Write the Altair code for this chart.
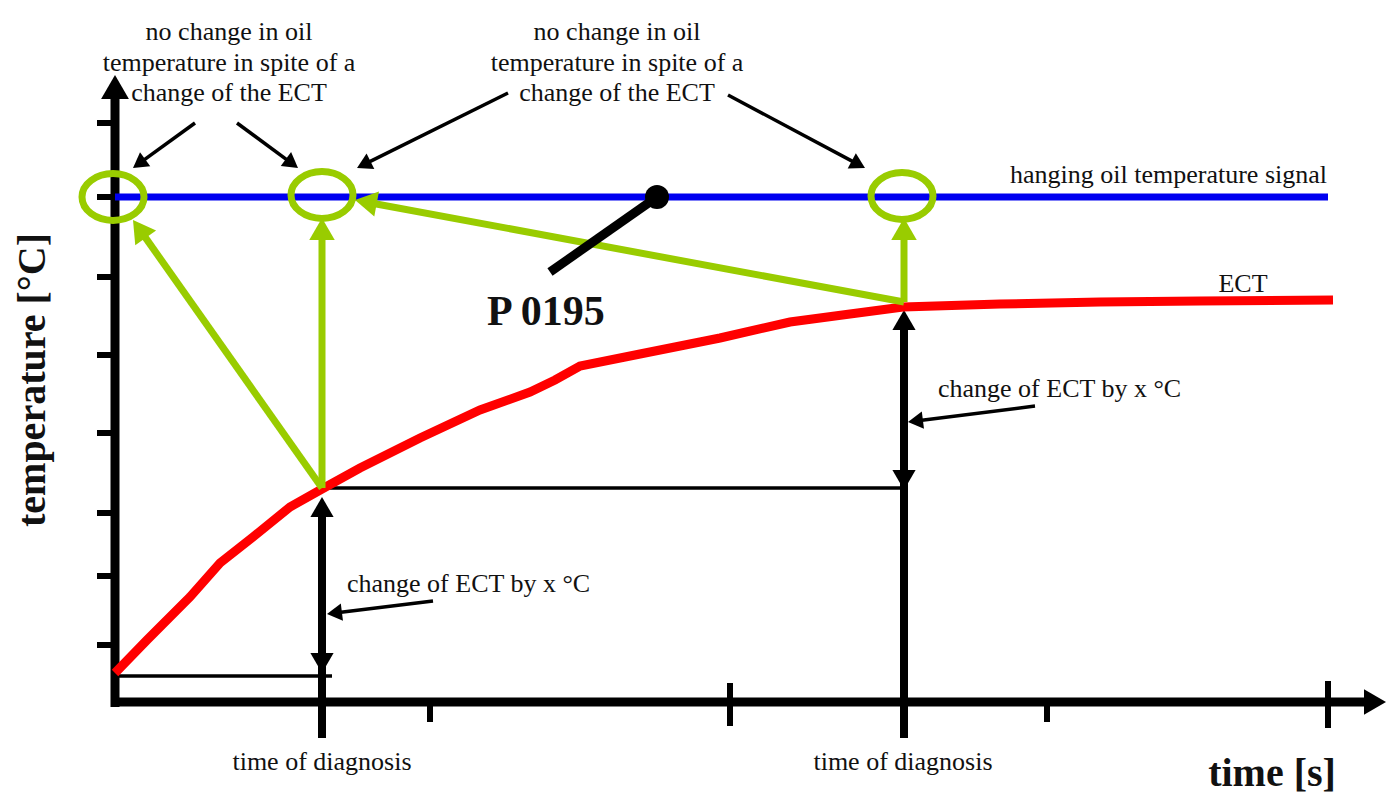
import math
import altair as alt
import pandas as pd

# ---------------------------------------------------------------
# Values, in chart units:
#   t = time (x), T = temperature (y); origin at the axes corner
# ---------------------------------------------------------------
X_DOMAIN = [-107, 1275]
Y_DOMAIN = [-97, 695]
W, H = 1382, 792

# ECT curve (red)
ect_time = [0, 32, 75, 105, 138, 175, 207, 245, 305, 365, 415, 440, 465,
            525, 605, 675, 735, 788, 885, 985, 1085, 1218]
ect_temp = [30, 63, 106, 140, 166, 196, 214, 235, 265, 293, 311, 323, 337,
            349, 365, 381, 389, 396, 399, 401, 402, 403]

# hanging oil temperature signal (blue)
signal_time = [0, 1213]
signal_temp = [506, 506]

# green ellipses (no change in oil temperature)
ring_time = [-2, 207, 787]
ring_temp = [506, 508, 507]

# green arrows: start -> tip
green_start_t = [207, 207, 789, 789]
green_start_T = [215, 215, 401, 401]
green_tip_t = [18, 207, 240, 789]
green_tip_T = [483, 485, 503, 485]

# black annotation arrows: start -> tip
note_start_t = [80, 122, 393, 613, 318, 920]
note_start_T = [580, 580, 610, 608, 102, 297]
note_tip_t = [18, 183, 242, 750, 212, 793]
note_tip_T = [535, 535, 535, 535, 89, 281]

# time-of-diagnosis double arrows (black, thick)
diag_time = [207, 789]
diag_low = [-35, -35]
diag_up_tip = [206, 393]
diag_down_tip = [30, 213]

# thin reference lines
ref_t = [0, 207]
ref_t2 = [217, 790]
ref_T = [27, 215]

# axes
yaxis_t, yaxis_T0, yaxis_T1, yaxis_tip = 0, -4, 608, 628
xaxis_T, xaxis_t0, xaxis_t1, xaxis_tip = 1, -4, 1255, 1271
ytick_T = [580, 506, 426, 348, 270, 190, 127, 58]
xtick_t = [315, 615, 932, 1213]
xtick_top = [1, 20, 1, 22]
xtick_bot = [-19, -23, -19, -25]

# P 0195 pointer
pointer_t = [435, 542]
pointer_T = [431, 506]

# texts
note_lines = ["no change in oil", "temperature in spite of a", "change of the ECT"]
note_centers_t = [114, 502]
note_baselines_T = [663, 632, 602]

GREEN = "#99CC00"
BLUE = "#0000F0"
RED = "#FF0000"
BLACK = "#000000"
TXT = "#111111"
FONT = "Liberation Serif"

HEAD = "M0,0 L0.58,1 L-0.58,1 Z"
ELLIPSE = ("M1,0 C1,0.417 0.552,0.755 0,0.755 C-0.552,0.755 -1,0.417 -1,0 "
           "C-1,-0.417 -0.552,-0.755 0,-0.755 C0.552,-0.755 1,-0.417 1,0 Z")

xs = alt.Scale(domain=X_DOMAIN, nice=False, zero=False)
ys = alt.Scale(domain=Y_DOMAIN, nice=False, zero=False)


def X(f="t"):
    return alt.X(f"{f}:Q", scale=xs, axis=None)


def Y(f="T"):
    return alt.Y(f"{f}:Q", scale=ys, axis=None)


def segs(df, color, width, cap="butt"):
    return alt.Chart(df).mark_rule(color=color, strokeWidth=width, strokeCap=cap).encode(
        x=X("t"), y=Y("T"), x2="t2:Q", y2="T2:Q")


def arrows(st, sT, tt, tT, head_len):
    seg_rows, head_rows = [], []
    for a, b, c, d in zip(st, sT, tt, tT):
        dx, dy = c - a, d - b
        n = math.hypot(dx, dy)
        ux, uy = dx / n, dy / n
        seg_rows.append(dict(t=a, T=b, t2=c - ux * head_len * 0.8, T2=d - uy * head_len * 0.8))
        ang = math.degrees(math.atan2(dx, dy)) % 360
        head_rows.append(dict(t=c, T=d, ang=ang, sz=4 * head_len ** 2))
    return pd.DataFrame(seg_rows), pd.DataFrame(head_rows)


def heads(df, color):
    return alt.Chart(df).mark_point(shape=HEAD, filled=True, color=color, opacity=1,
                                    strokeWidth=0).encode(
        x=X("t"), y=Y("T"),
        angle=alt.Angle("ang:Q", scale=None),
        size=alt.Size("sz:Q", scale=None))


layers = []

# thin reference lines
layers.append(segs(pd.DataFrame(dict(t=ref_t, t2=ref_t2, T=ref_T, T2=ref_T)), BLACK, 3.5))

# axes
axis_df = pd.DataFrame(dict(t=[yaxis_t, xaxis_t0], T=[yaxis_T0, xaxis_T],
                            t2=[yaxis_t, xaxis_t1], T2=[yaxis_T1, xaxis_T]))
layers.append(segs(axis_df, BLACK, 9))
axis_heads = pd.DataFrame(dict(t=[yaxis_t, xaxis_tip], T=[yaxis_tip, xaxis_T],
                               ang=[0, 90], sz=[4 * 24 ** 2, 4 * 22 ** 2]))
layers.append(heads(axis_heads, BLACK))
yt = pd.DataFrame(dict(t=[-18] * len(ytick_T), t2=[0] * len(ytick_T), T=ytick_T, T2=ytick_T))
layers.append(segs(yt, BLACK, 6))
xt = pd.DataFrame(dict(t=xtick_t, t2=xtick_t, T=xtick_top, T2=xtick_bot))
layers.append(segs(xt, BLACK, 6))

# double arrows at the times of diagnosis
dline = pd.DataFrame(dict(t=diag_time, t2=diag_time, T=diag_low,
                          T2=[u - 12 for u in diag_up_tip]))
layers.append(segs(dline, BLACK, 8))
dheads = pd.DataFrame(dict(t=diag_time + diag_time, T=diag_up_tip + diag_down_tip,
                           ang=[0, 0, 180, 180], sz=[4 * 20 ** 2] * 4))
layers.append(heads(dheads, BLACK))

# blue signal
layers.append(alt.Chart(pd.DataFrame(dict(t=signal_time, T=signal_temp))).mark_line(
    color=BLUE, strokeWidth=7, strokeCap="butt").encode(x=X("t"), y=Y("T")))

# red ECT
layers.append(alt.Chart(pd.DataFrame(dict(t=ect_time, T=ect_temp))).mark_line(
    color=RED, strokeWidth=9, strokeCap="butt").encode(x=X("t"), y=Y("T")))

# green arrows
gs, gh = arrows(green_start_t, green_start_T, green_tip_t, green_tip_T, 22)
layers.append(segs(gs, GREEN, 7))
layers.append(heads(gh, GREEN))

# green ellipses
layers.append(alt.Chart(pd.DataFrame(dict(t=ring_time, T=ring_temp))).mark_point(
    shape=ELLIPSE, filled=False, stroke=GREEN, strokeWidth=7, opacity=1,
    size=4 * 31 ** 2).encode(x=X("t"), y=Y("T")))

# black annotation arrows
ns, nh = arrows(note_start_t, note_start_T, note_tip_t, note_tip_T, 15)
layers.append(segs(ns, BLACK, 3.5))
layers.append(heads(nh, BLACK))

# P 0195 pointer
layers.append(segs(pd.DataFrame(dict(t=[pointer_t[0]], T=[pointer_T[0]],
                                     t2=[pointer_t[1]], T2=[pointer_T[1]])), BLACK, 9))
layers.append(alt.Chart(pd.DataFrame(dict(t=[pointer_t[1]], T=[pointer_T[1]]))).mark_point(
    shape="circle", filled=True, color=BLACK, opacity=1, size=576).encode(x=X("t"), y=Y("T")))


def texts(rows, align="center", size=26, weight="normal", angle=0):
    return alt.Chart(pd.DataFrame(rows)).mark_text(
        align=align, baseline="alphabetic", font=FONT, fontSize=size,
        fontWeight=weight, color=TXT, angle=angle).encode(
        x=X("t"), y=Y("T"), text="label:N")


note_rows = [dict(t=c, T=b, label=l) for c in note_centers_t
             for l, b in zip(note_lines, note_baselines_T)]
layers.append(texts(note_rows))
layers.append(texts([dict(t=1212, T=520, label="hanging oil temperature signal")], align="right"))
layers.append(texts([dict(t=1128, T=411, label="ECT")]))
layers.append(texts([dict(t=823, T=306, label="change of ECT by x °C"),
                     dict(t=232, T=111, label="change of ECT by x °C")], align="left"))
layers.append(texts([dict(t=207, T=-67, label="time of diagnosis"),
                     dict(t=788, T=-67, label="time of diagnosis")]))
layers.append(texts([dict(t=372, T=378, label="P 0195")], align="left", size=42, weight="bold"))
layers.append(texts([dict(t=1157, T=-83, label="time [s]")], size=40, weight="bold"))
layers.append(texts([dict(t=-70, T=323, label="temperature [°C]")], size=40,
                    weight="bold", angle=270))

chart = alt.layer(*layers).properties(
    width=W, height=H, autosize=alt.AutoSizeParams(type="none"), padding=0,
    background="white"
).configure_view(stroke=None)

chart.save("out.html", embed_options={"renderer": "svg", "actions": False})
